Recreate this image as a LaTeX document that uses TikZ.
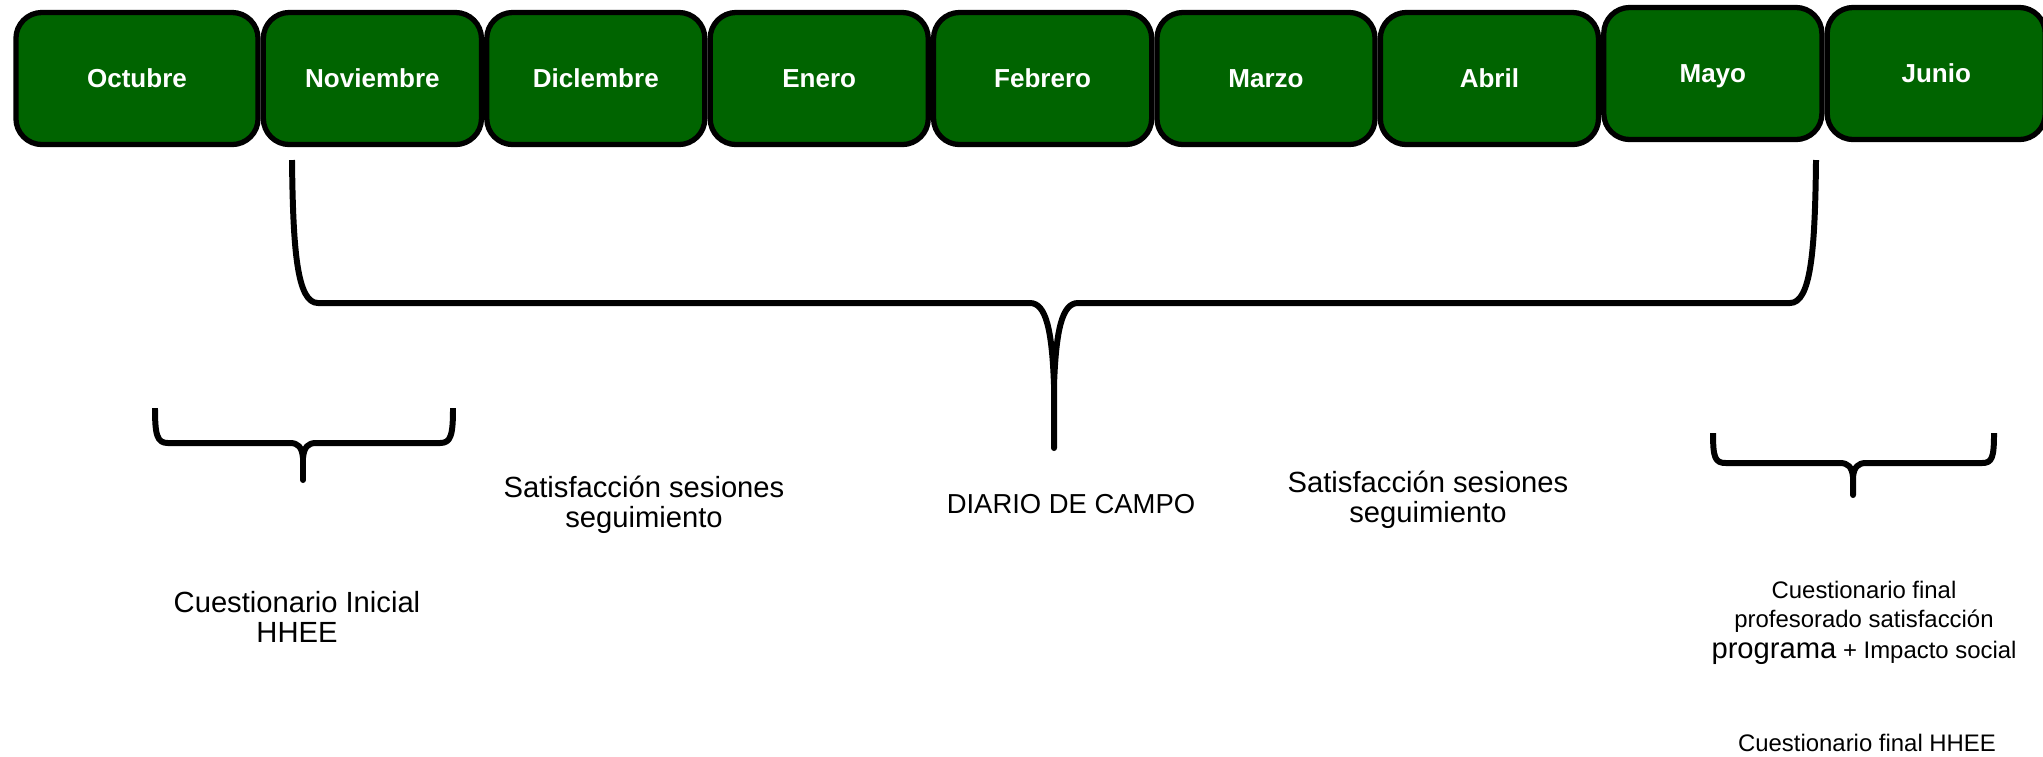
\documentclass[tikz,border=0pt]{standalone}
\usepackage{fontspec}
\setmainfont{Liberation Sans}
\usetikzlibrary{positioning}
\definecolor{verdemes}{RGB}{0,100,0}

\begin{document}
\begin{tikzpicture}[
    x=0.01cm, y=-0.01cm,
    mes/.style={rectangle, draw, rounded corners=0.26cm, fill=verdemes, text=white,
      line width=1.5pt, minimum width=2.18cm, minimum height=1.32cm,
      text height=0.2cm, text depth=0.02cm,
      font=\fontsize{7.4}{8.9}\selectfont\bfseries},
    llave/.style={line width=1.7pt, line join=round},
    etiqueta/.style={align=center, anchor=base, inner sep=0pt, font=\fontsize{8.3}{8.5}\selectfont},
    pequena/.style={align=center, anchor=base, inner sep=0pt, font=\fontsize{6.8}{8.2}\selectfont},
    node distance=0cm
  ]

    \useasboundingbox (0,0) rectangle (2043,756);

    % meses
    \node[mes, minimum width=2.42cm] (oct) at (137,78.5) {Octubre};
    \node[mes, right=0cm of oct] (nov) {Noviembre};
    \node[mes, right=0cm of nov] (dic) {Diclembre};
    \node[mes, right=0cm of dic] (ene) {Enero};
    \node[mes, right=0cm of ene] (feb) {Febrero};
    \node[mes, right=0cm of feb] (mar) {Marzo};
    \node[mes, right=0cm of mar] (abr) {Abril};
    \node[mes, right=0cm of abr, yshift=0.05cm] (may) {Mayo};
    \node[mes, right=0cm of may] (jun) {Junio};

    % llaves
    \draw[llave] (292,160) .. controls (293,250) and (297,303) .. (318,303) -- (1030,303)
      .. controls (1046,303) and (1052,330) .. (1054,385) -- (1054,448) -- (1054,385)
      .. controls (1056,330) and (1062,303) .. (1078,303) -- (1790,303)
      .. controls (1811,303) and (1815,250) .. (1816,160);
    \draw[llave] (155,408) .. controls (155,435) and (157,443) .. (168,443) -- (290,443)
      .. controls (298,443) and (302,447) .. (303,458) -- (303,480) -- (303,458)
      .. controls (304,447) and (308,443) .. (316,443) -- (440,443)
      .. controls (451,443) and (453,435) .. (453,408);
    \draw[llave] (1713,433) .. controls (1713,458) and (1715,463) .. (1726,463) -- (1840,463)
      .. controls (1848,463) and (1852,467) .. (1853,477) -- (1853,495) -- (1853,477)
      .. controls (1854,467) and (1858,463) .. (1866,463) -- (1982,463)
      .. controls (1992,463) and (1994,458) .. (1994,433);

    % textos (base = ultima linea)
    \node[etiqueta] (satisA) at (644,527) {Satisfacción sesiones\\seguimiento};
    \node[etiqueta, font=\fontsize{7.8}{8.5}\selectfont] (diario) at (1071,513) {DIARIO DE CAMPO};
    \node[etiqueta] (satisB) at (1428,522) {Satisfacción sesiones\\seguimiento};
    \node[etiqueta] (inicial) at (297,642) {Cuestionario Inicial\\HHEE};
    \node[pequena] (final) at (1864,658) {Cuestionario final\\profesorado satisfacción\\[0.02cm]{\fontsize{8.3}{8.5}\selectfont programa} + Impacto social};
    \node[pequena] (finalhhee) at (1867,751) {Cuestionario final HHEE};
  \end{tikzpicture}
\end{document}
